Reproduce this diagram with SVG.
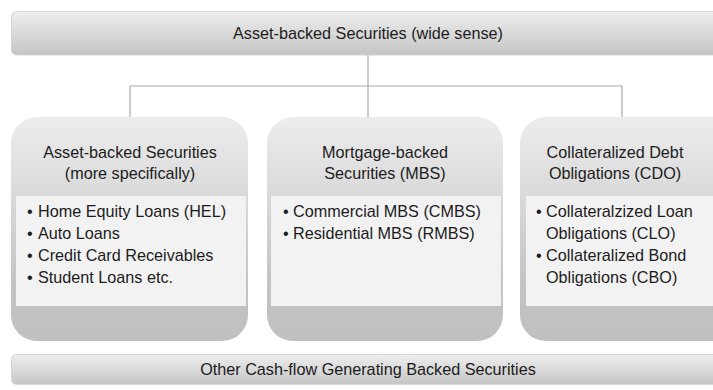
<svg xmlns="http://www.w3.org/2000/svg" width="713" height="390" viewBox="0 0 713 390">
<defs>
<linearGradient id="barG" x1="0" y1="0" x2="0" y2="1">
<stop offset="0" stop-color="#eeeeee"/>
<stop offset="1" stop-color="#c5c5c5"/>
</linearGradient>
<linearGradient id="nodeG" x1="0" y1="0" x2="0" y2="1">
<stop offset="0" stop-color="#ededed"/>
<stop offset="0.75" stop-color="#c3c3c3"/>
<stop offset="1" stop-color="#c0c0c0"/>
</linearGradient>
</defs>
<style>
text{font-family:"Liberation Sans",Arial,sans-serif;font-size:16.2px;fill:#1c1c1c}
.c{text-anchor:middle}
.bar{fill:url(#barG);stroke:#d6d6d6;stroke-width:1}
.node{fill:url(#nodeG)}
.inner{fill:#f2f2f2}
.conn{fill:none;stroke:#a9a9a9;stroke-width:1.2}
</style>
<g id="connectors">
<path class="conn" d="M368 55V117M130 117V86H622V117"/>
</g>
<g id="top">
<rect class="bar" x="11.5" y="11.5" width="713" height="43.5" rx="5"/>
<text class="c" x="368" y="39">Asset-backed Securities (wide sense)</text>
</g>
<g id="abs">
<rect class="node" x="11" y="117" width="237" height="224" rx="26"/>
<rect class="inner" x="16" y="196" width="230" height="110"/>
<text class="c" x="130" y="158">Asset-backed Securities</text>
<text class="c" x="130" y="179">(more specifically)</text>
<text x="27" y="217">•</text><text x="38" y="217">Home Equity Loans (HEL)</text>
<text x="27" y="239">•</text><text x="38" y="239">Auto Loans</text>
<text x="27" y="261">•</text><text x="38" y="261">Credit Card Receivables</text>
<text x="27" y="283">•</text><text x="38" y="283">Student Loans etc.</text>
</g>
<g id="mbs">
<rect class="node" x="267" y="117" width="236" height="224" rx="26"/>
<rect class="inner" x="271" y="196" width="230" height="110"/>
<text class="c" x="385" y="158">Mortgage-backed</text>
<text class="c" x="385" y="179">Securities (MBS)</text>
<text x="283" y="217">•</text><text x="293" y="217">Commercial MBS (CMBS)</text>
<text x="283" y="239">•</text><text x="293" y="239">Residential MBS (RMBS)</text>
</g>
<g id="cdo">
<rect class="node" x="520" y="117" width="236" height="224" rx="26"/>
<rect class="inner" x="526" y="196" width="230" height="110"/>
<text class="c" x="615" y="158">Collateralized Debt</text>
<text class="c" x="615" y="179">Obligations (CDO)</text>
<text x="536" y="217">•</text><text x="546" y="217">Collateralzized Loan</text>
<text x="546" y="239">Obligations (CLO)</text>
<text x="536" y="261">•</text><text x="546" y="261">Collateralized Bond</text>
<text x="546" y="283">Obligations (CBO)</text>
</g>
<g id="bottom">
<rect class="bar" x="11.5" y="354.5" width="713" height="30" rx="5"/>
<text class="c" x="368" y="375">Other Cash-flow Generating Backed Securities</text>
</g>
</svg>
